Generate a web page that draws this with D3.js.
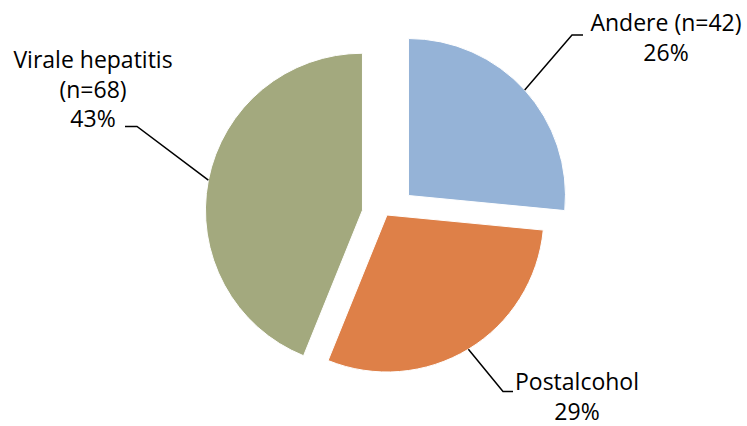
<!DOCTYPE html>
<html>
<head>
<meta charset="utf-8">
<script src="https://cdn.jsdelivr.net/npm/d3@7"></script>
<style>
  html, body { margin: 0; padding: 0; background: #fff; }
  svg { display: block; }
  text { font-family: "Open Sans", "DejaVu Sans", sans-serif; fill: #000; }
</style>
</head>
<body>
<svg id="chart" width="747" height="426"></svg>
<script>
// Aetiologie: share per category (percent) and case counts
const categories = ["Andere", "Postalcohol", "Virale hepatitis"];
const percentages = [26, 29, 43];
const counts = [42, null, 68];

// Presentation settings per slice
const colors = ["#95B3D7", "#DE8048", "#A3A97E"];
const explode = [29, 0, 25];
const labelLayout = [
  { x: 666, y: 31, gap: 29.5, lines: ["Andere (n=42)"], elbow: [572, 35], end: [583, 35] },
  { x: 577, y: 390, gap: 29.5, lines: ["Postalcohol"], elbow: [503, 391.5], end: [513, 391.5] },
  { x: 93, y: 68, gap: 29.5, lines: ["Virale hepatitis", "(n=68)"], elbow: [137, 126.5], end: [125, 126.5] }
];

const svg = d3.select("#chart");
const cx = 387, cy = 215, r = 157;

const pie = d3.pie().sort(null).value(d => d.value);
const arcs = pie(categories.map((c, i) => ({ name: c, value: percentages[i], n: counts[i], i })));

const arc = d3.arc().innerRadius(0).outerRadius(r);

const g = svg.append("g").attr("transform", `translate(${cx},${cy})`);

// Slice offset along its bisector
function offset(d) {
  const a = (d.startAngle + d.endAngle) / 2;
  const e = explode[d.data.i];
  return [Math.sin(a) * e, -Math.cos(a) * e];
}

g.selectAll("path.slice")
  .data(arcs)
  .enter().append("path")
  .attr("class", "slice")
  .attr("transform", d => { const o = offset(d); return `translate(${o[0]},${o[1]})`; })
  .attr("d", arc)
  .attr("fill", d => colors[d.data.i])
  .attr("stroke", "#fff")
  .attr("stroke-width", 1);

// Leader lines from the outer edge at the slice bisector
arcs.forEach(d => {
  const L = labelLayout[d.data.i];
  const a = (d.startAngle + d.endAngle) / 2;
  const o = offset(d);
  const sx = cx + o[0] + Math.sin(a) * r;
  const sy = cy + o[1] - Math.cos(a) * r;
  svg.append("polyline")
    .attr("points", [[sx, sy], L.elbow, L.end].map(p => p.join(",")).join(" "))
    .attr("fill", "none")
    .attr("stroke", "#000")
    .attr("stroke-width", 1.5);

  const lines = L.lines.concat([d.data.value + "%"]);
  const t = svg.append("text")
    .attr("x", L.x)
    .attr("y", L.y)
    .attr("text-anchor", "middle")
    .style("font-size", "23px");
  lines.forEach((s, k) => {
    t.append("tspan").attr("x", L.x).attr("dy", k === 0 ? 0 : L.gap).text(s);
  });
});
</script>
</body>
</html>
